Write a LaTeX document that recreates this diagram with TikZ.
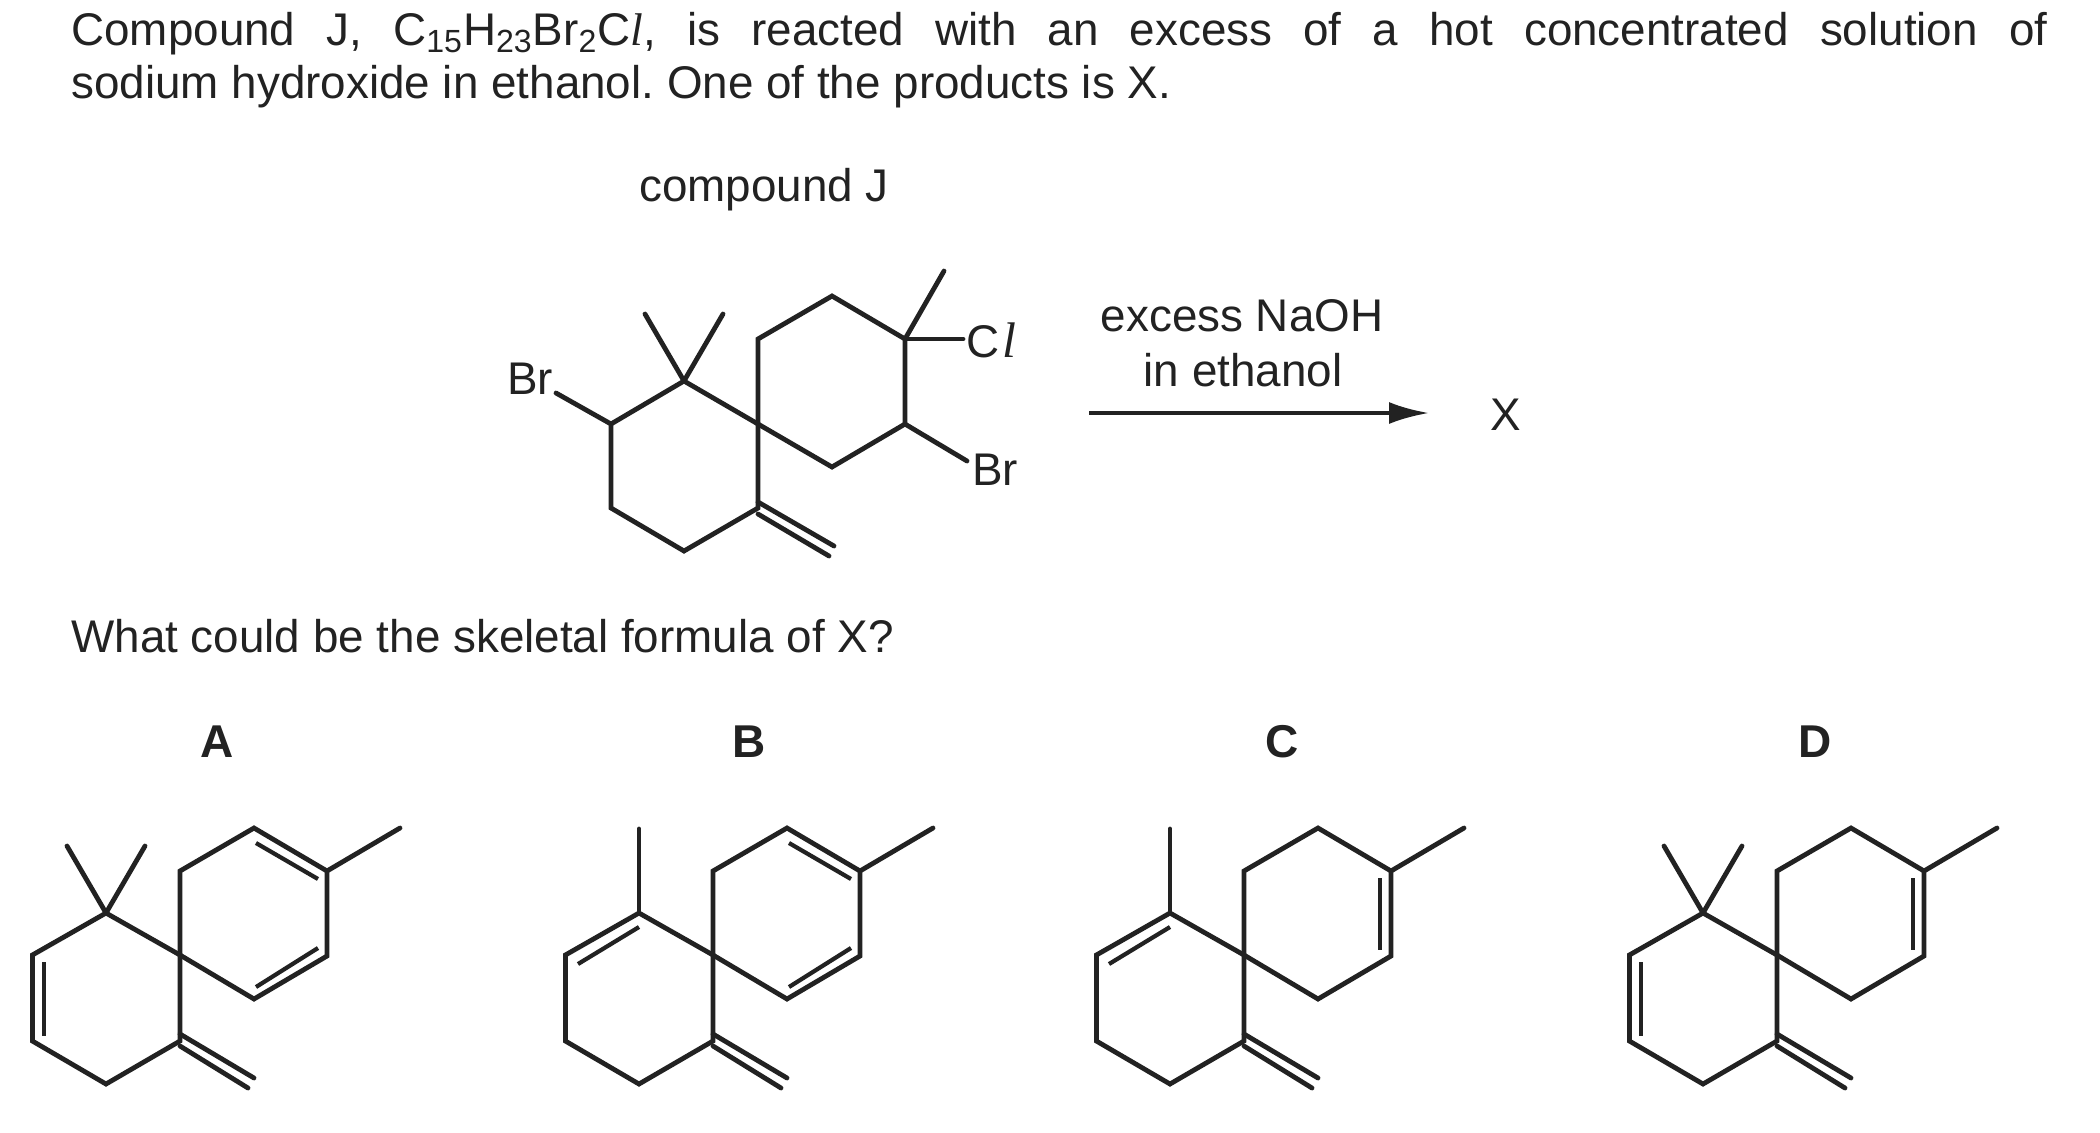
\documentclass[tikz,border=0pt]{standalone}
\usepackage{fontspec}
\setmainfont{Liberation Sans}
\newfontfamily\clfont{Liberation Serif}
\usetikzlibrary{arrows.meta}
\frenchspacing

\tikzstyle{bond}=[line width=2.4pt, draw=ink, line cap=round, line join=miter]
\tikzstyle{thin bond}=[line width=2.1pt, draw=ink]
\tikzstyle{txt}=[font=\fontsize{22.9}{27}\selectfont, text=ink, inner sep=0pt, anchor=base west]
\tikzstyle{optlabel}=[font=\fontsize{23}{27}\selectfont\bfseries, text=ink, inner sep=0pt]
\definecolor{ink}{HTML}{222222}

% the skeleton every option shares: #1 prefix, #2 x of the spiro atom
\newcommand{\skeleton}[2]{
  \begin{scope}[shift={(#2,0)}]
    \coordinate (#1s) at (0,955);
    \coordinate (#1g) at (-74,913);
    \coordinate (#1l1) at (-147.6,955);
    \coordinate (#1l2) at (-147.6,1041);
    \coordinate (#1l3) at (-74,1084);
    \coordinate (#1e) at (0,1041);
    \coordinate (#1r1) at (0,871);
    \coordinate (#1r2) at (74,828);
    \coordinate (#1r3) at (147,871);
    \coordinate (#1r4) at (147,956);
    \coordinate (#1r5) at (74,999);
    \coordinate (#1me) at (220,828);
    \coordinate (#1x1) at (0,1034);
    \coordinate (#1x2) at (74,1078);
    \coordinate (#1x3) at (0,1046);
    \coordinate (#1x4) at (68,1088);
    \coordinate (#1m1) at (-113,846);
    \coordinate (#1m2) at (-35,846);
    \coordinate (#1m3) at (-74,829);
    \coordinate (#1dl1) at (-136,962);
    \coordinate (#1dl2) at (-136,1036);
    \coordinate (#1dg1) at (-135,964);
    \coordinate (#1dg2) at (-74,927);
    \coordinate (#1dt1) at (76,843);
    \coordinate (#1dt2) at (138,879);
    \coordinate (#1db1) at (76,987);
    \coordinate (#1db2) at (138,948);
    \coordinate (#1dv1) at (136,878);
    \coordinate (#1dv2) at (136,950);
  \end{scope}
  \draw[bond] (#1s) -- (#1g) -- (#1l1) -- (#1l2) -- (#1l3) -- (#1e) -- cycle;
  \draw[bond] (#1s) -- (#1r1) -- (#1r2) -- (#1r3) -- (#1r4) -- (#1r5) -- cycle;
  \draw[bond] (#1r3) -- (#1me);
  \draw[bond] (#1x1) -- (#1x2);
  \draw[bond] (#1x3) -- (#1x4);
}

\begin{document}
\begin{tikzpicture}[x=0.5pt,y=-0.5pt]
  \useasboundingbox (0,0) rectangle (2100,1132);
  \fill[white] (0,0) rectangle (2100,1132);

  % question text
  \node (line1) [txt] at (71,45)
    {\makebox[988pt][s]{Compound J, C\textsubscript{15}H\textsubscript{23}Br\textsubscript{2}C{\clfont\itshape l}, is reacted with an excess of a hot concentrated solution of}};
  \node (line2) [txt] at (71,98) {sodium hydroxide in ethanol. One of the products is X.};
  \node (title) [txt] at (639,201) {compound J};
  \node (what) [txt] at (71,652) {What could be the skeletal formula of X?};

  % compound J
  \coordinate (s) at (758,424);
  \coordinate (g) at (684,381);
  \coordinate (cb) at (611,424);
  \coordinate (l2) at (611,508);
  \coordinate (l3) at (684,551);
  \coordinate (e) at (758,508);
  \coordinate (r1) at (758,339);
  \coordinate (r2) at (832,296);
  \coordinate (r3) at (905,339);
  \coordinate (r4) at (905,424);
  \coordinate (r5) at (832,467);
  \coordinate (m1) at (645,314);
  \coordinate (m2) at (723,314);
  \coordinate (m3) at (944,271);
  \coordinate (brl) at (556,393);
  \coordinate (brr) at (967,461);
  \coordinate (cle) at (963,339);
  \coordinate (x1) at (758,502);
  \coordinate (x2) at (834,546);
  \coordinate (x3) at (758,514);
  \coordinate (x4) at (829,556);
  \draw[bond] (s) -- (g) -- (cb) -- (l2) -- (l3) -- (e) -- cycle;
  \draw[bond] (s) -- (r1) -- (r2) -- (r3) -- (r4) -- (r5) -- cycle;
  \draw[bond] (g) -- (m1);
  \draw[bond] (g) -- (m2);
  \draw[bond] (r3) -- (m3);
  \draw[bond] (cb) -- (brl);
  \draw[bond] (r4) -- (brr);
  \draw[bond] (r3) -- (cle);
  \draw[bond] (x1) -- (x2);
  \draw[bond] (x3) -- (x4);
  \node (brleft) [txt] at (507,394) {Br};
  \node (brright) [txt] at (972,485) {Br};
  \node (cl) [txt] at (966,357) {C\kern1.5pt{\clfont\itshape\fontsize{25}{27}\selectfont l}};

  % reaction arrow
  \coordinate (a1) at (1089,413);
  \coordinate (a2) at (1429,413);
  \draw[line width=2pt, draw=ink, -{Latex[length=20pt,width=11pt]}] (a1) -- (a2);
  \node (rc1) [txt, anchor=base] at (1242,331) {excess NaOH};
  \node (rc2) [txt, anchor=base] at (1243,386) {in ethanol};
  \node (prod) [txt, anchor=center] at (1506,415) {X};

  % option labels
  \node (la) [optlabel] at (217,742) {A};
  \node (lb) [optlabel] at (749,742) {B};
  \node (lc) [optlabel] at (1282,742) {C};
  \node (ld) [optlabel] at (1815,742) {D};

  % options
  \skeleton{A}{180}
  \draw[bond] (Ag) -- (Am1);
  \draw[bond] (Ag) -- (Am2);
  \draw[thin bond] (Adl1) -- (Adl2);
  \draw[thin bond] (Adt1) -- (Adt2);
  \draw[thin bond] (Adb1) -- (Adb2);

  \skeleton{B}{713}
  \draw[bond] (Bg) -- (Bm3);
  \draw[thin bond] (Bdg1) -- (Bdg2);
  \draw[thin bond] (Bdt1) -- (Bdt2);
  \draw[thin bond] (Bdb1) -- (Bdb2);

  \skeleton{C}{1244}
  \draw[bond] (Cg) -- (Cm3);
  \draw[thin bond] (Cdg1) -- (Cdg2);
  \draw[thin bond] (Cdv1) -- (Cdv2);

  \skeleton{D}{1777}
  \draw[bond] (Dg) -- (Dm1);
  \draw[bond] (Dg) -- (Dm2);
  \draw[thin bond] (Ddl1) -- (Ddl2);
  \draw[thin bond] (Ddv1) -- (Ddv2);
\end{tikzpicture}
\end{document}
